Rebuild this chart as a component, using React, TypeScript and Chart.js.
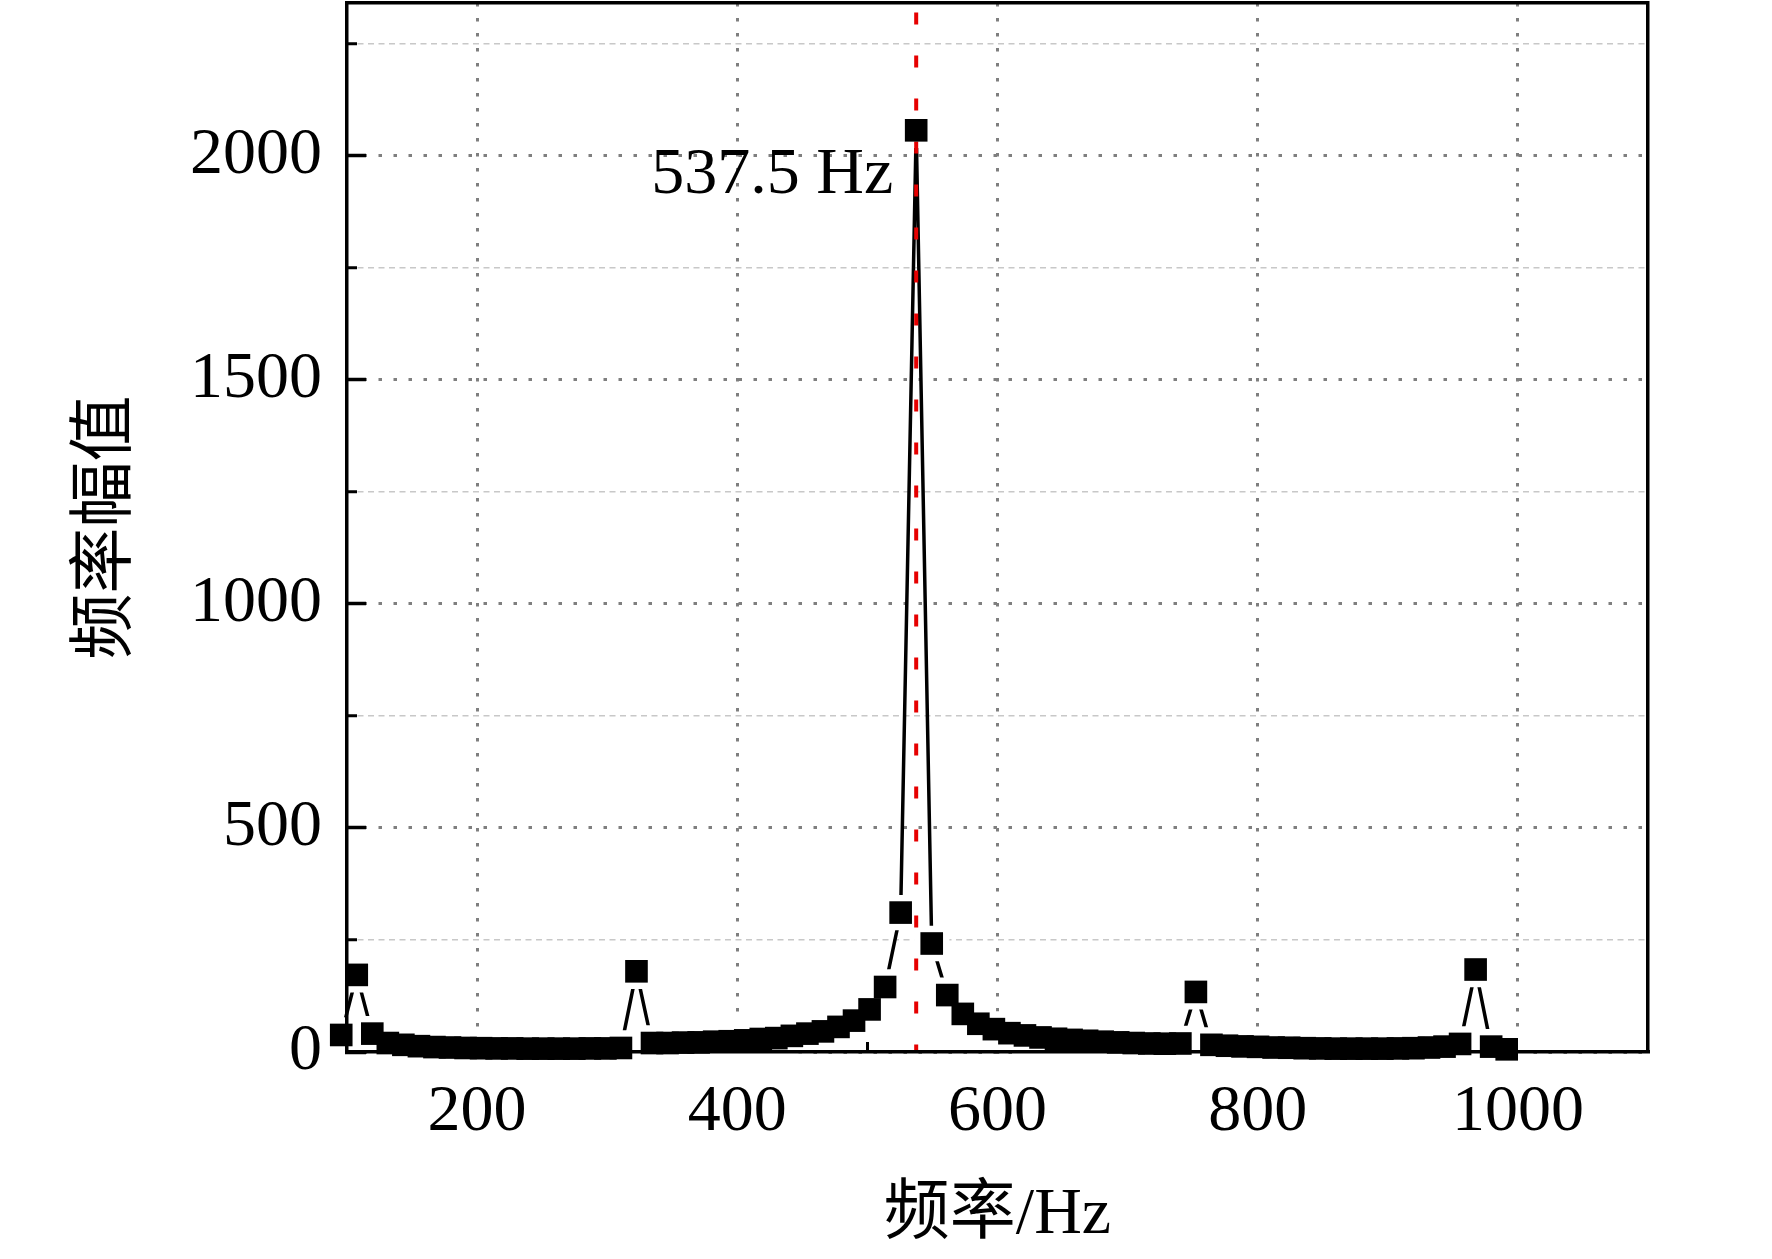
import { useEffect, useRef } from "react"
import { Chart, registerables } from "chart.js"

Chart.register(...registerables)

// spectrum bins (Hz) and their amplitudes
const frequencies = [
  95.56, 107.5, 119.44, 131.39, 143.33, 155.28, 167.22, 179.17, 191.11, 203.06,
  215, 226.94, 238.89, 250.83, 262.78, 274.72, 286.67, 298.61, 310.56, 322.5,
  334.44, 346.39, 358.33, 370.28, 382.22, 394.17, 406.11, 418.06, 430, 441.94,
  453.89, 465.83, 477.78, 489.72, 501.67, 513.61, 525.56, 537.5, 549.44, 561.39,
  573.33, 585.28, 597.22, 609.17, 621.11, 633.06, 645, 656.94, 668.89, 680.83,
  692.78, 704.72, 716.67, 728.61, 740.56, 752.5, 764.44, 776.39, 788.33, 800.28,
  812.22, 824.17, 836.11, 848.06, 860, 871.94, 883.89, 895.83, 907.78, 919.72,
  931.67, 943.61, 955.56, 967.5, 979.44, 991.39,
]
const amplitudes = [
  38, 172, 41, 20, 16, 13, 11, 10, 9, 8.5,
  8, 8, 7.5, 7.5, 7.5, 7.5, 8, 8, 9, 180,
  20, 20, 21, 21.5, 23, 24, 26, 29, 31, 36,
  41, 46, 56, 70, 95, 145, 311, 2056, 242, 127,
  85, 63, 51, 42, 37, 32.5, 29.5, 27, 25, 23,
  21.5, 20, 19, 18.5, 19, 134, 16, 14, 12.5, 11.5,
  10, 9.5, 8.5, 8, 7.5, 7.5, 7.5, 7.5, 8, 8.5,
  10, 12, 18, 184, 12, 6,
]

const xMajorTicks = [200, 400, 600, 800, 1000]
const xMinorTicks = [300, 500, 700, 900]
const yMajorTicks = [0, 500, 1000, 1500, 2000]
const yMinorTicks = [250, 750, 1250, 1750, 2250]
const xRange = [100, 1100]
const yRange = [0, 2340]

const peakFreq = 537.5
const peakAmp = 2056
const peakLabel = "537.5 Hz"
const xTitle = "频率/Hz"
const yTitle = "频率幅值"

const serif = "'Liberation Serif', 'Noto Sans CJK SC', serif"

const peakLabelPlugin = {
  id: "peakLabel",
  afterDatasetsDraw(chart: Chart) {
    const { ctx, scales } = chart
    const x = scales.x.getPixelForValue(peakFreq) - 23
    const y = scales.y.getPixelForValue(peakAmp) + 63
    ctx.save()
    ctx.font = `66px ${serif}`
    ctx.fillStyle = "#000"
    ctx.textAlign = "right"
    ctx.textBaseline = "alphabetic"
    ctx.fillText(peakLabel, x, y)
    ctx.restore()
  },
}

export default function App() {
  const chartRef = useRef<HTMLCanvasElement>(null)
  const chartInstance = useRef<Chart | null>(null)

  useEffect(() => {
    if (!chartRef.current) return
    const ctx = chartRef.current.getContext("2d")
    if (!ctx) return

    const points = frequencies.map((f, i) => ({ x: f, y: amplitudes[i] }))
    const plainLabel = (value: number | string) => String(value)

    chartInstance.current = new Chart(ctx, {
      type: "scatter",
      data: {
        datasets: [
          {
            // connecting line
            data: points,
            showLine: true,
            borderColor: "#000",
            borderWidth: 3.5,
            pointRadius: 0,
            clip: false,
            order: 4,
          },
          {
            // white gap round each symbol, like Origin
            data: points,
            showLine: false,
            pointStyle: "rect",
            pointRadius: 25,
            backgroundColor: "#fff",
            borderWidth: 0,
            clip: false,
            order: 3,
          },
          {
            data: [
              { x: peakFreq, y: yRange[1] },
              { x: peakFreq, y: yRange[0] },
            ],
            showLine: true,
            borderColor: "rgb(230, 0, 0)",
            borderWidth: 4,
            borderDash: [12, 31],
            borderDashOffset: 33.6,
            pointRadius: 0,
            order: 2,
          },
          {
            data: points,
            showLine: false,
            pointStyle: "rect",
            pointRadius: 16,
            backgroundColor: "#000",
            borderWidth: 0,
            clip: false,
            order: 1,
          },
        ],
      },
      options: {
        responsive: true,
        maintainAspectRatio: false,
        animation: false,
        events: [],
        layout: { autoPadding: false, padding: { left: 0, top: 3, right: 124, bottom: 0 } },
        plugins: {
          legend: { display: false },
          tooltip: { enabled: false },
        },
        scales: {
          x: {
            type: "linear",
            axis: "x",
            position: "bottom",
            min: xRange[0],
            max: xRange[1],
            weight: 1,
            afterBuildTicks: (axis: any) => {
              axis.ticks = xMajorTicks.map((value) => ({ value }))
            },
            afterFit: (s: any) => {
              s.height = 207
              s.paddingLeft = 0
              s.paddingRight = 0
            },
            ticks: {
              autoSkip: false,
              maxRotation: 0,
              padding: 40,
              color: "#000",
              font: { family: serif, size: 66, lineHeight: 1.2 },
              callback: plainLabel,
            },
            grid: {
              color: "#7f7f7f",
              lineWidth: 3,
              drawTicks: true,
              tickLength: -19,
              tickColor: "#000",
              tickWidth: 3.5,
            },
            border: { display: true, color: "#000", width: 3.5, dash: [3.5, 11.5], z: 1 },
            title: {
              display: true,
              text: xTitle,
              color: "#000",
              font: { family: serif, size: 66, lineHeight: 1.2 },
              padding: { top: 0, bottom: 4 },
            },
          },
          xMinor: {
            type: "linear",
            axis: "x",
            position: "bottom",
            min: xRange[0],
            max: xRange[1],
            weight: 0,
            afterBuildTicks: (axis: any) => {
              axis.ticks = xMinorTicks.map((value) => ({ value }))
            },
            afterFit: (s: any) => {
              s.height = 0
              s.paddingLeft = 0
              s.paddingRight = 0
            },
            ticks: { display: false },
            grid: {
              drawOnChartArea: false,
              drawTicks: true,
              tickLength: -10,
              tickColor: "#000",
              tickWidth: 3,
            },
            border: { display: false },
          },
          xTop: {
            type: "linear",
            axis: "x",
            position: "top",
            min: xRange[0],
            max: xRange[1],
            afterFit: (s: any) => {
              s.height = 0
              s.paddingLeft = 0
              s.paddingRight = 0
            },
            ticks: { display: false },
            grid: { display: false },
            border: { display: true, color: "#000", width: 3.5, z: 1 },
          },
          y: {
            type: "linear",
            axis: "y",
            position: "left",
            min: yRange[0],
            max: yRange[1],
            weight: 1,
            afterBuildTicks: (axis: any) => {
              axis.ticks = yMajorTicks.map((value) => ({ value }))
            },
            afterFit: (s: any) => {
              s.width = 347
              s.paddingTop = 0
              s.paddingBottom = 0
            },
            ticks: {
              autoSkip: false,
              padding: 44,
              color: "#000",
              font: { family: serif, size: 66, lineHeight: 1.2 },
              callback: plainLabel,
            },
            grid: {
              color: "#7f7f7f",
              lineWidth: 3,
              drawTicks: true,
              tickLength: -19,
              tickColor: "#000",
              tickWidth: 3.5,
            },
            border: { display: true, color: "#000", width: 3.5, dash: [3.5, 11.5], z: 1 },
            title: {
              display: true,
              text: yTitle,
              color: "#000",
              font: { family: serif, size: 66, lineHeight: 1.2 },
              padding: { top: 68, bottom: 0 },
            },
          },
          yMinor: {
            type: "linear",
            axis: "y",
            position: "left",
            min: yRange[0],
            max: yRange[1],
            weight: 0,
            afterBuildTicks: (axis: any) => {
              axis.ticks = yMinorTicks.map((value) => ({ value }))
            },
            afterFit: (s: any) => {
              s.width = 0
              s.paddingTop = 0
              s.paddingBottom = 0
            },
            ticks: { display: false },
            grid: {
              color: "#c8c8c8",
              lineWidth: 1.5,
              drawTicks: true,
              tickLength: -10,
              tickColor: "#000",
              tickWidth: 3,
            },
            border: { display: false, dash: [6, 4.5] },
          },
          yRight: {
            type: "linear",
            axis: "y",
            position: "right",
            min: yRange[0],
            max: yRange[1],
            afterFit: (s: any) => {
              s.width = 0
              s.paddingTop = 0
              s.paddingBottom = 0
            },
            ticks: { display: false },
            grid: { display: false },
            border: { display: true, color: "#000", width: 3.5, z: 1 },
          },
        },
      },
      plugins: [peakLabelPlugin],
    })

    return () => {
      if (chartInstance.current) {
        chartInstance.current.destroy()
        chartInstance.current = null
      }
    }
  }, [])

  return (
    <div style={{ position: "fixed", left: 0, top: 0, width: 1772, height: 1259, background: "#fff" }}>
      <canvas ref={chartRef}></canvas>
    </div>
  )
}
